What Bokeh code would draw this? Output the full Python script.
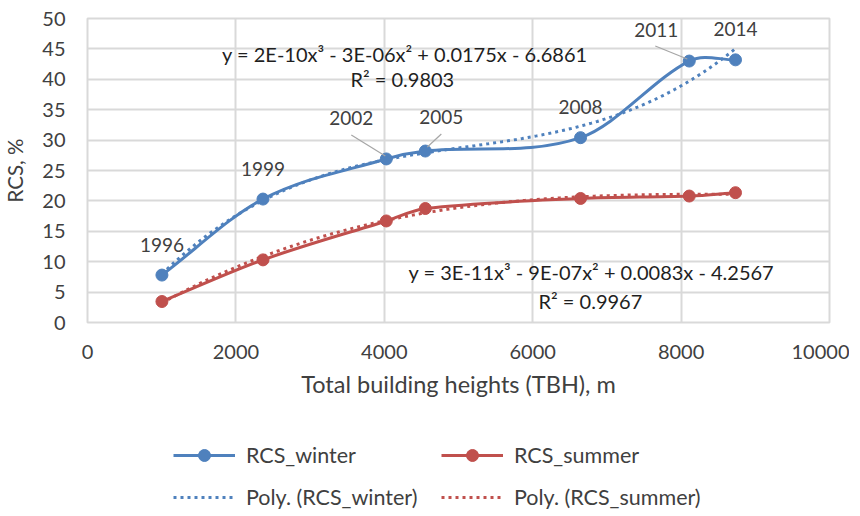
import numpy as np
from bokeh.plotting import figure
from bokeh.layouts import column
from bokeh.models import ColumnDataSource, Range1d, FixedTicker, Legend, LegendItem
from bokeh.core.properties import value
from bokeh.embed import file_html
from bokeh.resources import INLINE

# ---------------- data ----------------
years = ["1996", "1999", "2002", "2005", "2008", "2011", "2014"]
tbh = [1003, 2365, 4027, 4553, 6645, 8110, 8733]
rcs_winter = [7.8, 20.3, 26.9, 28.2, 30.4, 43.0, 43.2]
rcs_summer = [3.45, 10.3, 16.7, 18.75, 20.4, 20.8, 21.35]
x_ticks = [0, 2000, 4000, 6000, 8000, 10000]
y_ticks = [0, 5, 10, 15, 20, 25, 30, 35, 40, 45, 50]
eq_winter = "y = 2E-10x³ - 3E-06x² + 0.0175x - 6.6861"
r2_winter = "R² = 0.9803"
eq_summer = "y = 3E-11x³ - 9E-07x² + 0.0083x - 4.2567"
r2_summer = "R² = 0.9967"

# ---------------- style ----------------
FONT = "Lato"
BLUE = "#4F81BD"
RED = "#C0504D"
GRID = "#D9D9D9"
TXT = "#404040"
X0, X1, Y0, Y1 = 0, 10000, 0, 50
FW, FH = 742, 304          # frame size in px
PX = (X1 - X0) / FW        # data units per px
PY = (Y1 - Y0) / FH

p = figure(frame_width=FW, frame_height=FH, output_backend="svg", toolbar_location=None,
           x_range=Range1d(X0, X1), y_range=Range1d(Y0, Y1),
           min_border_left=82, min_border_right=20, min_border_top=18, min_border_bottom=88)
p.background_fill_color = "white"
p.border_fill_color = "white"
p.outline_line_color = GRID
p.outline_line_width = 2

for ax in (p.xaxis[0], p.yaxis[0]):
    ax.axis_line_color = None
    ax.major_tick_line_color = None
    ax.minor_tick_line_color = None
    ax.major_tick_out = 0
    ax.major_tick_in = 0
    ax.minor_tick_out = 0
    ax.minor_tick_in = 0
    ax.major_label_text_font = FONT
    ax.major_label_text_font_size = "20px"
    ax.major_label_text_color = TXT
    ax.axis_label_text_font = FONT
    ax.axis_label_text_font_style = "normal"
    ax.axis_label_text_color = TXT
p.xaxis.axis_label_text_font_size = "23.5px"
p.yaxis.axis_label_text_font_size = "20.5px"
p.xaxis.ticker = FixedTicker(ticks=x_ticks)
p.yaxis.ticker = FixedTicker(ticks=y_ticks)
p.xaxis.axis_label = "Total building heights (TBH), m"
p.yaxis.axis_label = "RCS, %"
p.xaxis.major_label_standoff = 22
p.xaxis.axis_label_standoff = 8
p.yaxis.major_label_standoff = 22
p.yaxis.axis_label_standoff = 12
p.grid.grid_line_color = GRID
p.grid.grid_line_width = 2
p.xgrid.ticker = FixedTicker(ticks=x_ticks)
p.ygrid.ticker = FixedTicker(ticks=y_ticks)


def smooth_source(xs, ys):
    """Bezier segments of a smooth curve through the points (x-parameterised Hermite)."""
    xs = np.asarray(xs, float)
    ys = np.asarray(ys, float)
    n = len(xs)
    slopes = []
    for i in range(n):
        im = max(i - 1, 0)
        ip = min(i + 1, n - 1)
        slopes.append((ys[ip] - ys[im]) / (xs[ip] - xs[im]))
    d = dict(x0=[], y0=[], x1=[], y1=[], cx0=[], cy0=[], cx1=[], cy1=[])
    for i in range(n - 1):
        h = xs[i + 1] - xs[i]
        d["x0"].append(xs[i]); d["y0"].append(ys[i])
        d["x1"].append(xs[i + 1]); d["y1"].append(ys[i + 1])
        d["cx0"].append(xs[i] + h / 3)
        d["cy0"].append(ys[i] + slopes[i] * h / 3)
        d["cx1"].append(xs[i + 1] - h / 3)
        d["cy1"].append(ys[i + 1] - slopes[i + 1] * h / 3)
    return ColumnDataSource(d)


for name, ys, col in (("winter", rcs_winter, BLUE), ("summer", rcs_summer, RED)):
    p.bezier(x0="x0", y0="y0", x1="x1", y1="y1", cx0="cx0", cy0="cy0", cx1="cx1", cy1="cy1",
             source=smooth_source(tbh, ys), line_color=col, line_width=3, line_cap="round")
    coef = np.polyfit(tbh, ys, 3)
    xf = np.linspace(min(tbh), max(tbh), 200)
    p.line(xf, np.polyval(coef, xf), line_color=col, line_width=3, line_dash="3 4")
    p.scatter(tbh, ys, size=12, fill_color=col, line_color=col)

# data labels (winter series)
lab_dx = [0, 0, -35, 16, 0, -33, 0]
lab_dy = [30, 30, 41, 34, 31, 31, 31]
p.text(x=tbh, y=rcs_winter, text=years, x_offset=lab_dx, y_offset=[-v for v in lab_dy],
       text_align="center", text_baseline="middle", text_font=value(FONT),
       text_font_size="19px", text_color=TXT)

# leader lines for labels 2002, 2005, 2011
lead_idx = [2, 3, 5]
lead_from = [(-35, 24), (16, 17), (-34, 15)]
lead_to = [(-1, 3), (2, 4), (-2, 2)]
p.segment(x0=[tbh[i] + f[0] * PX for i, f in zip(lead_idx, lead_from)],
          y0=[rcs_winter[i] + f[1] * PY for i, f in zip(lead_idx, lead_from)],
          x1=[tbh[i] + t[0] * PX for i, t in zip(lead_idx, lead_to)],
          y1=[rcs_winter[i] + t[1] * PY for i, t in zip(lead_idx, lead_to)],
          line_color="#A6A6A6", line_width=1.2)

# trendline equations
p.text(x=[4277, 4243, 6791, 6778], y=[44.1, 40.0, 8.27, 3.55],
       text=[eq_winter, r2_winter, eq_summer, r2_summer],
       text_align="center", text_baseline="middle", text_font=value(FONT),
       text_font_size="20px", text_color="#1F1F1F")

# ---------------- legend figure ----------------
lf = figure(width=844, height=103, output_backend="svg", toolbar_location=None,
            x_range=Range1d(0, 1), y_range=Range1d(0, 1),
            x_axis_location=None, y_axis_location=None,
            min_border_left=0, min_border_right=0, min_border_top=0, min_border_bottom=0)
lf.grid.visible = False
lf.outline_line_color = None
lf.background_fill_color = "white"
lf.border_fill_color = "white"


def legend_renderers(col):
    # renderers kept outside the visible range; they only supply the legend glyphs
    lw = lf.line(x=[5, 6], y=[5, 6], line_color=col, line_width=3)
    sw = lf.scatter(x=[5], y=[5], size=12, fill_color=col, line_color=col)
    tw = lf.line(x=[5, 6], y=[5, 6], line_color=col, line_width=3, line_dash="3 4")
    return lw, sw, tw


lg_style = dict(orientation="vertical", glyph_width=62, glyph_height=30, label_standoff=11,
                spacing=12, padding=0, margin=0, label_height=30,
                border_line_color=None, background_fill_alpha=0,
                label_text_font=FONT, label_text_font_size="21.5px", label_text_color=TXT)

lw, sw, tw = legend_renderers(BLUE)
lf.add_layout(Legend(items=[LegendItem(label="RCS_winter", renderers=[lw, sw]),
                            LegendItem(label="Poly. (RCS_winter)", renderers=[tw])],
                     location=(86, 1), **lg_style), "center")
lw, sw, tw = legend_renderers(RED)
lf.add_layout(Legend(items=[LegendItem(label="RCS_summer", renderers=[lw, sw]),
                            LegendItem(label="Poly. (RCS_summer)", renderers=[tw])],
                     location=(354, 1), **lg_style), "center")

open("out.html", "w").write(file_html(column(p, lf), INLINE))
